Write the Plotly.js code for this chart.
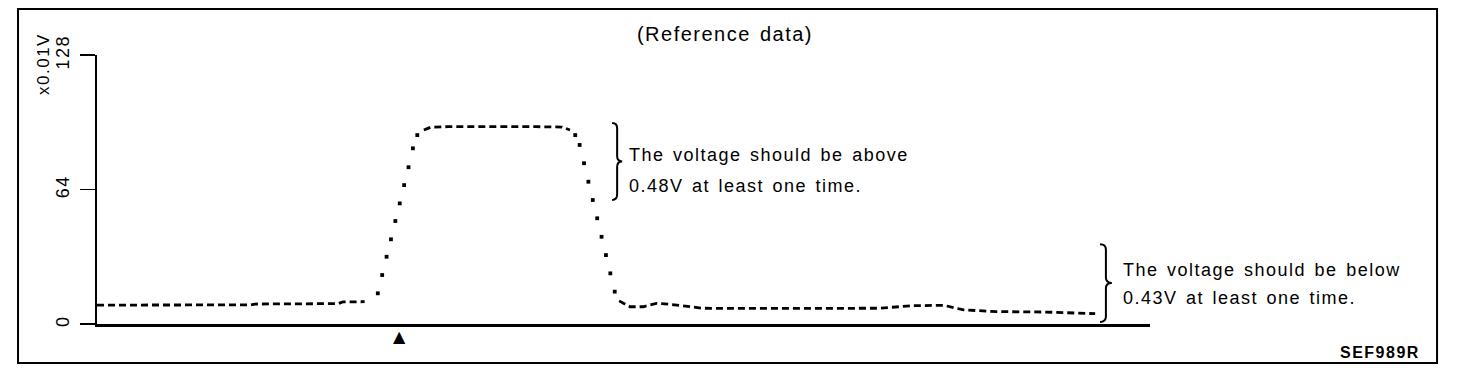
<!DOCTYPE html>
<html><head><meta charset="utf-8">
<script src="https://cdn.plot.ly/plotly-3.0.1.min.js"></script>
<style>
html,body{margin:0;padding:0;background:#fff;}
#chart{width:1472px;height:376px;}
svg text{letter-spacing:1.5px;word-spacing:2px;}
</style></head><body><div id="chart"></div>
<script>
// time in seconds, voltage in units of 0.01 V
const leftTime  = [0, 1.2, 2.4, 3.5, 3.6, 4.6, 5.5, 5.6, 6.1];
const leftValue = [9.0, 9.0, 9.1, 9.1, 9.5, 9.6, 9.7, 10.5, 10.6];
const riseTime  = [6.4, 6.5, 6.6, 6.7, 6.8, 6.9, 7.0, 7.1, 7.2, 7.3];
const riseValue = [14.6, 23.3, 32.0, 40.3, 49.0, 57.4, 66.1, 74.6, 83.6, 89.9];
const peakTime  = [7.45, 7.6, 8.0, 9.0, 10.0, 10.6, 10.78];
const peakValue = [92.3, 93.6, 93.9, 94.0, 93.9, 93.7, 92.3];
const fallTime  = [10.9, 11.0, 11.1, 11.2, 11.3, 11.4, 11.5, 11.6, 11.7, 11.8];
const fallValue = [89.9, 85.2, 76.5, 67.7, 59.0, 50.3, 41.5, 32.8, 24.1, 15.4];
const tailTime  = [11.9, 12.15, 12.45, 12.75, 13.05, 13.3, 13.8, 15.0, 16.5, 17.8, 18.6, 19.3, 19.75, 20.5, 21.6, 22.2, 22.75];
const tailValue = [11.0, 8.2, 8.2, 9.8, 9.4, 8.7, 7.5, 7.4, 7.5, 7.5, 8.7, 8.9, 6.7, 5.9, 5.7, 5.2, 4.9];
const eventTime = 6.9;
const yTicks = [0, 64, 128];
const yTickText = ['0', '64', '128'];
const upperBrace = {t0: 11.74, t1: 11.97, top: 95.7, bottom: 59.0};
const lowerBrace = {t0: 22.86, t1: 23.13, top: 38.0, bottom: 1.0};
const upperNote = ['The voltage should be above', '0.48V at least one time.'];
const lowerNote = ['The voltage should be below', '0.43V at least one time.'];

const FONT = '"Liberation Sans", Arial, Helvetica, sans-serif';
const dashLine = {color: '#000', width: 2.8, dash: '7px,4px'};
const dotMarker = {color: '#000', size: 3.8, symbol: 'square'};

function lineTrace(x, y){ return {x, y, type: 'scatter', mode: 'lines', line: dashLine, hoverinfo: 'skip', showlegend: false}; }
function dotTrace(x, y){ return {x, y, type: 'scatter', mode: 'markers', marker: dotMarker, hoverinfo: 'skip', showlegend: false}; }

function bracePath(b){
  const x0 = b.t0, x1 = b.t1, xm = (x0 + x1) / 2, ym = (b.top + b.bottom) / 2;
  const r = (b.top - b.bottom) * 0.07;
  return `M${x0},${b.top} Q${xm},${b.top} ${xm},${b.top - r} L${xm},${ym + r} Q${xm},${ym} ${x1},${ym} ` +
         `Q${xm},${ym} ${xm},${ym - r} L${xm},${b.bottom + r} Q${xm},${b.bottom} ${x0},${b.bottom}`;
}

const data = [
  lineTrace(leftTime, leftValue),
  dotTrace(riseTime, riseValue),
  lineTrace(peakTime, peakValue),
  dotTrace(fallTime, fallValue),
  lineTrace(tailTime, tailValue)
];

function note(text, x, y){
  return {text, x, y, xref: 'x', yref: 'y', xanchor: 'left', yanchor: 'middle', showarrow: false,
          font: {family: FONT, size: 18, color: '#000'}};
}

const layout = {
  width: 1472, height: 376,
  margin: {l: 97, r: 322, t: 55, b: 52},
  paper_bgcolor: '#fff', plot_bgcolor: '#fff',
  font: {family: FONT, size: 18, color: '#000'},
  title: {text: '(Reference data)', xref: 'container', yref: 'container', x: 0.4925, y: 0.909,
          xanchor: 'center', yanchor: 'middle', font: {family: FONT, size: 20, color: '#000'}},
  xaxis: {range: [0, 24], showline: true, linewidth: 3, linecolor: '#000', showgrid: false,
          zeroline: false, showticklabels: false, ticks: '', fixedrange: true},
  yaxis: {range: [0, 128], tickvals: yTicks, ticktext: yTickText, tickangle: -90,
          ticks: 'outside', ticklen: 15, tickwidth: 1.5, tickcolor: '#000',
          showline: true, linewidth: 2, linecolor: '#000', showgrid: false, zeroline: false,
          ticklabelstandoff: 4, tickfont: {family: FONT, size: 18, color: '#000'}, fixedrange: true},
  shapes: [
    {type: 'rect', xref: 'paper', yref: 'paper', x0: -0.0750, x1: 1.2726, y0: -0.1450, y1: 1.1710,
     line: {color: '#000', width: 2}},
    {type: 'path', xref: 'x', yref: 'y', path: bracePath(upperBrace), line: {color: '#000', width: 2}},
    {type: 'path', xref: 'x', yref: 'y', path: bracePath(lowerBrace), line: {color: '#000', width: 2}}
  ],
  annotations: [
    note(upperNote[0], 12.08, 80.4),
    note(upperNote[1], 12.08, 65.7),
    note(lowerNote[0], 23.34, 25.7),
    note(lowerNote[1], 23.34, 12.4),
    {text: 'x0.01V', xref: 'paper', yref: 'paper', x: -0.0513, y: 0.9665, textangle: -90,
     xanchor: 'center', yanchor: 'middle', showarrow: false, font: {family: FONT, size: 17, color: '#000'}},
    {text: '<b>SEF989R</b>', xref: 'paper', yref: 'paper', x: 1.2583, y: -0.1078,
     xanchor: 'right', yanchor: 'middle', showarrow: false, font: {family: FONT, size: 16, color: '#000'}},
    {text: '▲', xref: 'x', yref: 'paper', x: eventTime, y: -0.045, xanchor: 'center', yanchor: 'middle',
     showarrow: false, font: {family: '"DejaVu Sans", sans-serif', size: 16, color: '#000'}}
  ]
};

Plotly.newPlot('chart', data, layout, {staticPlot: true, displayModeBar: false});
</script></body></html>
